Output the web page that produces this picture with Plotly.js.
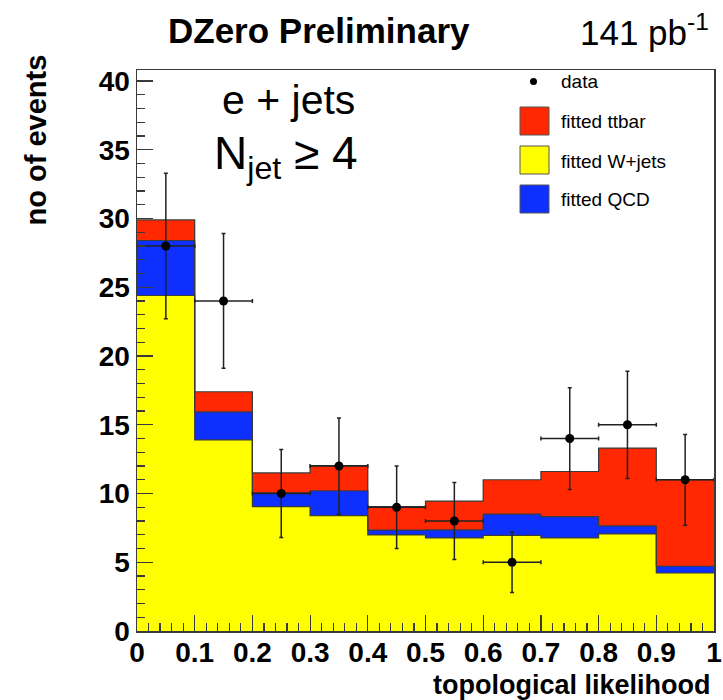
<!DOCTYPE html>
<html>
<head>
<meta charset="utf-8">
<script src="https://cdn.plot.ly/plotly-3.0.1.min.js"></script>
<style>html,body{margin:0;padding:0;background:#fff;}#chart{width:723px;height:700px;}</style>
</head>
<body>
<div id="chart"></div>
<script>
// ---- data ----
const binEdges   = [0, 0.1, 0.2, 0.3, 0.4, 0.5, 0.6, 0.7, 0.8, 0.9, 1.0];
const binCenters = [0.05, 0.15, 0.25, 0.35, 0.45, 0.55, 0.65, 0.75, 0.85, 0.95];
const halfWidth  = [0.05, 0.05, 0.05, 0.05, 0.05, 0.05, 0.05, 0.05, 0.05, 0.05];
const wjets = [24.4, 13.9, 9.05, 8.39, 6.99, 6.77, 6.96, 6.77, 7.06, 4.22];
const qcd   = [4.0, 2.04, 0.99, 1.81, 0.34, 0.58, 1.54, 1.55, 0.58, 0.49];
const ttbar = [1.5, 1.46, 1.46, 1.83, 1.72, 2.09, 2.5, 3.28, 5.66, 6.29];
const dataCounts = [28, 24, 10, 12, 9, 8, 5, 14, 15, 11];
const dataErr    = [5.3, 4.9, 3.2, 3.5, 3.0, 2.8, 2.2, 3.7, 3.9, 3.3];
const yTickVals  = [0, 5, 10, 15, 20, 25, 30, 35, 40];
const xTickVals  = [0, 0.1, 0.2, 0.3, 0.4, 0.5, 0.6, 0.7, 0.8, 0.9, 1];
const xTickText  = ["0", "0.1", "0.2", "0.3", "0.4", "0.5", "0.6", "0.7", "0.8", "0.9", "1"];
const legendLabels = ["data", "fitted ttbar", "fitted W+jets", "fitted QCD"];

const RED = '#ff2800', YEL = '#ffff00', BLU = '#0d30ff', OUT = '#3a3a3a';
const FONT = 'Liberation Sans, Arial, Helvetica, sans-serif';

// cumulative tops for step outlines
const topW = wjets.slice();
const topQ = wjets.map((v, i) => v + qcd[i]);
const topT = topQ.map((v, i) => v + ttbar[i]);
const stepY = a => a.concat([a[a.length - 1]]);

function bar(y, color, name) {
  return {type: 'bar', x: binCenters, y: y, width: 0.1, name: name,
    marker: {color: color, line: {width: 0}}, hoverinfo: 'skip', showlegend: false};
}
function step(y) {
  return {type: 'scatter', mode: 'lines', x: binEdges, y: stepY(y),
    line: {shape: 'hv', color: OUT, width: 1.2}, hoverinfo: 'skip', showlegend: false};
}

const traces = [
  bar(wjets, YEL, 'fitted W+jets'),
  bar(qcd, BLU, 'fitted QCD'),
  bar(ttbar, RED, 'fitted ttbar'),
  step(topW), step(topQ), step(topT),
  {type: 'scatter', mode: 'markers', x: binCenters, y: dataCounts, name: 'data',
   marker: {color: '#000', size: 9},
   error_y: {type: 'data', array: dataErr, visible: true, color: '#222', thickness: 1.5, width: 2},
   error_x: {type: 'data', array: halfWidth, visible: true, color: '#222', thickness: 1.5, width: 2},
   showlegend: false}
];

const tickFont = {family: FONT, size: 28, color: '#000', weight: 'bold'};

// pixel -> paper helpers (plot area: x 137..714, y 70..631)
const px = x => (x - 137) / 577;
const py = y => (631 - y) / 561;

// manual legend (ROOT style)
const swatchColors = [RED, YEL, BLU];
const shapes = [];
const annotations = [];
const legTextY = [81, 121, 161, 199];
const swTop = [107, 146, 185];
swatchColors.forEach((c, i) => {
  shapes.push({type: 'rect', xref: 'paper', yref: 'paper',
    x0: px(520), x1: px(549), y0: py(swTop[i]), y1: py(swTop[i] + 28),
    fillcolor: c, line: {color: '#555', width: 1}});
});
shapes.push({type: 'circle', xref: 'paper', yref: 'paper',
  x0: px(530), x1: px(537), y0: py(78), y1: py(85), fillcolor: '#000', line: {width: 0}});
legendLabels.forEach((t, i) => {
  annotations.push({xref: 'paper', yref: 'paper', x: px(559), y: py(legTextY[i] + 1),
    xanchor: 'left', yanchor: 'middle', text: t, showarrow: false,
    font: {family: FONT, size: 19, color: '#000'}});
});

annotations.push(
  {xref: 'paper', yref: 'paper', x: px(319), y: py(31), xanchor: 'center', yanchor: 'middle',
   text: 'DZero Preliminary', showarrow: false, font: {family: FONT, size: 35, color: '#000', weight: 'bold'}},
  {xref: 'paper', yref: 'paper', x: px(711), y: py(30), xanchor: 'right', yanchor: 'middle',
   text: '141 pb<sup>-1</sup>', showarrow: false, font: {family: FONT, size: 35, color: '#000'}},
  {xref: 'paper', yref: 'paper', x: px(288), y: py(100), xanchor: 'center', yanchor: 'middle',
   text: 'e + jets', showarrow: false, font: {family: FONT, size: 41, color: '#000'}},
  {xref: 'paper', yref: 'paper', x: px(212), y: py(157), xanchor: 'left', yanchor: 'middle',
   text: 'N<sub>jet</sub> ≥ 4', showarrow: false, font: {family: FONT, size: 46, color: '#000'}},
  {xref: 'paper', yref: 'paper', x: px(35), y: py(53), xanchor: 'center', yanchor: 'top',
   textangle: -90, text: 'no of events', showarrow: false, font: {family: FONT, size: 29, color: '#000', weight: 'bold'}},
  {xref: 'paper', yref: 'paper', x: px(713), y: py(685), xanchor: 'right', yanchor: 'middle',
   text: 'topological likelihood', showarrow: false, font: {family: FONT, size: 27, color: '#000', weight: 'bold'}}
);

const layout = {
  width: 723, height: 700,
  margin: {l: 137, r: 9, t: 70, b: 69, pad: 0},
  paper_bgcolor: '#fff', plot_bgcolor: '#fff',
  barmode: 'stack', bargap: 0, showlegend: false,
  xaxis: {range: [0, 1], tickvals: xTickVals, ticktext: xTickText, ticks: 'inside', ticklen: 16,
    tickcolor: OUT, tickwidth: 1.2, showgrid: false, zeroline: false, showline: true, linecolor: OUT,
    linewidth: 1.5, mirror: true, tickfont: tickFont, fixedrange: true, ticklabelstandoff: -4,
    minor: {dtick: 0.02, tick0: 0, ticks: 'inside', ticklen: 8, tickcolor: OUT, tickwidth: 1.2, showgrid: false}},
  yaxis: {range: [0, 40.8], tickvals: yTickVals, ticks: 'inside', ticklen: 16,
    tickcolor: OUT, tickwidth: 1.2, showgrid: false, zeroline: false, showline: true, linecolor: OUT,
    linewidth: 1.5, mirror: true, tickfont: tickFont, fixedrange: true,
    minor: {dtick: 1, tick0: 0, ticks: 'inside', ticklen: 8, tickcolor: OUT, tickwidth: 1.2, showgrid: false}},
  shapes: shapes,
  annotations: annotations
};

Plotly.newPlot('chart', traces, layout, {displayModeBar: false, staticPlot: true});
</script>
</body>
</html>
